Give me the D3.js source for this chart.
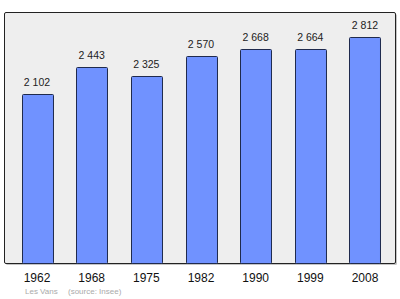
<!DOCTYPE html>
<html>
<head>
<meta charset="utf-8">
<script src="https://cdnjs.cloudflare.com/ajax/libs/d3/7.8.5/d3.min.js"></script>
<style>
  body { margin: 0; background: #fff; }
  text { font-family: "Liberation Sans", Arial, sans-serif; }
</style>
</head>
<body>
<script>
const years = ["1962", "1968", "1975", "1982", "1990", "1999", "2008"];
const population = [2102, 2443, 2325, 2570, 2668, 2664, 2812];
const valueLabels = ["2 102", "2 443", "2 325", "2 570", "2 668", "2 664", "2 812"];

const width = 400, height = 299;
const frame = {left: 4.5, top: 12.5, right: 395.5, bottom: 263.5};

var svg = d3.select("body").append("svg")
    .attr("width", width)
    .attr("height", height);

// set the ranges
var x = d3.scaleBand()
    .domain(years)
    .range([9, 393])
    .paddingInner(0.433)
    .paddingOuter(0.229);
var y = d3.scaleLinear()
    .domain([0, 3116])
    .range([frame.bottom, frame.top]);

// shadow + plot frame
svg.append("rect")
    .attr("x", frame.left + 1.5)
    .attr("y", frame.top + 1.5)
    .attr("width", frame.right - frame.left)
    .attr("height", frame.bottom - frame.top)
    .attr("rx", 1.5)
    .attr("fill", "#c4c4c4");
svg.append("rect")
    .attr("x", frame.left)
    .attr("y", frame.top)
    .attr("width", frame.right - frame.left)
    .attr("height", frame.bottom - frame.top)
    .attr("rx", 1.5)
    .attr("fill", "#eeeeee")
    .attr("stroke", "#222")
    .attr("stroke-width", 1);

// bars
svg.selectAll("rect.bar")
    .data(population)
    .enter().append("rect")
    .attr("class", "bar")
    .attr("x", function(d, i) { return Math.round(x(years[i])) + 0.5; })
    .attr("y", function(d) { return Math.round(y(d)) + 0.5; })
    .attr("width", x.bandwidth())
    .attr("height", function(d) { return frame.bottom - Math.round(y(d)) - 0.5; })
    .attr("rx", 1)
    .attr("fill", "#7092ff")
    .attr("stroke", "#1f2a4d")
    .attr("stroke-width", 1);

// value labels
svg.selectAll("text.val")
    .data(population)
    .enter().append("text")
    .attr("class", "val")
    .attr("x", function(d, i) { return x(years[i]) + x.bandwidth() / 2; })
    .attr("y", function(d) { return y(d) - 8; })
    .attr("text-anchor", "middle")
    .attr("font-size", "10.5px")
    .attr("fill", "#222")
    .text(function(d, i) { return valueLabels[i]; });

// year axis
var axis = svg.append("g")
    .attr("transform", "translate(0," + frame.bottom + ")")
    .call(d3.axisBottom(x).tickSize(0).tickPadding(9.5));
axis.select(".domain").remove();
axis.selectAll("text")
    .attr("font-size", "12px")
    .attr("font-family", "Liberation Sans, Arial, sans-serif")
    .attr("fill", "#111");

// footer
svg.append("text")
    .attr("x", 25)
    .attr("y", 294)
    .attr("font-size", "8px")
    .attr("fill", "#aaa")
    .text("Les Vans");
svg.append("text")
    .attr("x", 68)
    .attr("y", 294)
    .attr("font-size", "8px")
    .attr("fill", "#aaa")
    .text("(source: Insee)");
</script>
</body>
</html>
